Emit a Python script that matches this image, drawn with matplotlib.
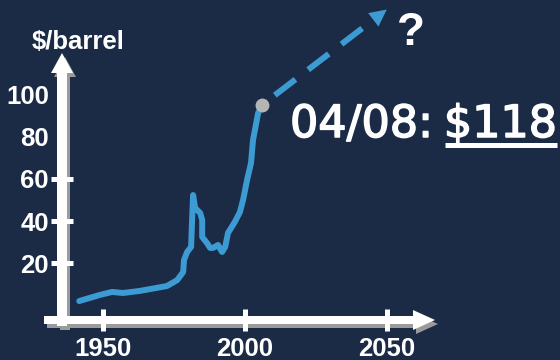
import matplotlib
matplotlib.use("Agg")
import matplotlib.pyplot as plt
import matplotlib.patheffects as pe
from matplotlib.transforms import Affine2D
from matplotlib.patches import FancyArrow

# Palette
BG = "#1b2b46"
BLUE = "#3c9bd3"
WHITE = "#ffffff"
SHADOW = "#9b9b9b"
DOT = "#b5b5b5"

# Crude oil price history ($/barrel)
years = [1941.7, 1949.0, 1953.3, 1957.1, 1963.1, 1972.6, 1976.2, 1978.3,
         1978.6, 1979.7, 1981.1, 1981.4, 1981.8, 1982.5, 1984.3, 1985.0,
         1985.0, 1986.7, 1987.8, 1988.8, 1990.6, 1992.0, 1993.1, 1994.1,
         1996.5, 1998.3, 1999.4, 2000.8, 2002.2, 2002.9, 2004.7, 2006.1]
prices = [2.2, 5.1, 6.5, 6.0, 7.0, 9.3, 12.1, 15.9,
          21.6, 25.4, 27.8, 39.1, 52.3, 46.2, 43.8, 40.5,
          32.5, 29.6, 27.3, 27.3, 28.7, 25.4, 27.8, 34.4,
          39.6, 44.3, 50.0, 59.4, 67.5, 78.3, 91.1, 94.9]

# Speculative projection target
future_year = 2050
future_price = 140

x_ticks = [1950, 2000, 2050]
y_ticks_marked = [20, 40, 60]
y_ticks_plain = [80, 100]
y_unit = "$/barrel"
date_text = "04/08:"
price_text = "$118"

plt.rcParams["font.family"] = ["Liberation Sans", "DejaVu Sans"]

W, H = 560, 360
fig = plt.figure(figsize=(W / 100, H / 100), dpi=100, facecolor=BG)
ax = fig.add_axes([0, 0, 1, 1])
ax.set_facecolor(BG)
ax.set_xlim(1913.8, 2111.0)
ax.set_ylim(-25.67, 144.5)

# pixel frame (origin top-left) for decorations
px = Affine2D().scale(1 / W, -1 / H).translate(0, 1) + fig.transFigure

# where the two axes cross, expressed in data units
cross = ax.transData.inverted().transform(px.transform((62, 320)))
for s in ax.spines.values():
    s.set_visible(False)
ax.spines["left"].set_position(("data", cross[0]))
ax.spines["bottom"].set_position(("data", cross[1]))

# Axis arrows with a drop shadow
arrows = [
    dict(x=62, y=326, dx=0, dy=-273, width=10, head_width=22, head_length=20),
    dict(x=44, y=320, dx=391, dy=0, width=8, head_width=20, head_length=22),
]
for color, off, z in [(SHADOW, (3, 4), 1.0), (WHITE, (0, 0), 1.1)]:
    for a in arrows:
        ax.add_patch(FancyArrow(a["x"] + off[0], a["y"] + off[1], a["dx"], a["dy"],
                                width=a["width"], head_width=a["head_width"],
                                head_length=a["head_length"],
                                length_includes_head=True, color=color, lw=0,
                                transform=px, zorder=z))

# Ticks
ax.set_xticks(x_ticks)
ax.set_xticklabels([str(t) for t in x_ticks])
ax.set_yticks(y_ticks_marked)
ax.set_yticklabels([str(t) for t in y_ticks_marked])
ax.set_yticks(y_ticks_plain, minor=True)
ax.set_yticklabels([str(t) for t in y_ticks_plain], minor=True)
ax.tick_params(axis="both", which="both", colors=WHITE, direction="inout",
               width=3.6, labelsize=18.5)
ax.tick_params(axis="y", which="major", length=15.8, pad=1.5)
ax.tick_params(axis="y", which="minor", length=0, pad=1.5 + 7.9)
ax.tick_params(axis="x", which="major", length=16.5, pad=4)
ax.tick_params(axis="x", which="minor", length=0)
for lab in ax.get_xticklabels() + ax.get_yticklabels() + ax.get_yticklabels(minor=True):
    lab.set_fontweight("bold")

# Price history
ax.plot(years, prices, color=BLUE, lw=4.3, solid_joinstyle="round",
        solid_capstyle="round", zorder=3)

# Dashed projection ending in an arrow head
x0, y0 = years[-1], prices[-1]
f = 0.893
bx, by = x0 + f * (future_year - x0), y0 + f * (future_price - y0)
ax.plot([x0, bx], [y0, by], color=BLUE, lw=4.3,
        linestyle=(4.35, (4.35, 2.68)), dash_capstyle="butt", zorder=3)
ax.annotate("", xy=(future_year, future_price), xytext=(bx, by),
            arrowprops=dict(arrowstyle="-|>,head_length=1.22,head_width=0.61",
                            mutation_scale=10, color=BLUE, lw=0,
                            shrinkA=0, shrinkB=0), zorder=3)

ax.plot([x0], [y0], "o", ms=10, color=DOT, mec="none", zorder=5)

# Labels
ax.text(32, 49, y_unit, transform=px, ha="left", va="baseline",
        fontsize=18.5, fontweight="bold", color=WHITE)
ax.text(411, 45, "?", transform=px, ha="center", va="baseline",
        fontsize=33, fontweight="bold", color=WHITE)

heavy = [pe.withStroke(linewidth=1.1, foreground=WHITE)]
ax.text(290, 137, date_text, transform=px, ha="left", va="baseline",
        fontsize=32, family="DejaVu Sans", color=WHITE, path_effects=heavy)
price = ax.text(557, 137, price_text, transform=px, ha="right", va="baseline",
                fontsize=32, family="DejaVu Sans", color=WHITE,
                path_effects=heavy)

renderer = fig.canvas.get_renderer()
bb = price.get_window_extent(renderer)
ax.plot([bb.x0 + 1, bb.x1], [144.5, 144.5], transform=px, color=WHITE,
        lw=3.6, solid_capstyle="butt")

fig.savefig("out.png", dpi=100, facecolor=BG)
